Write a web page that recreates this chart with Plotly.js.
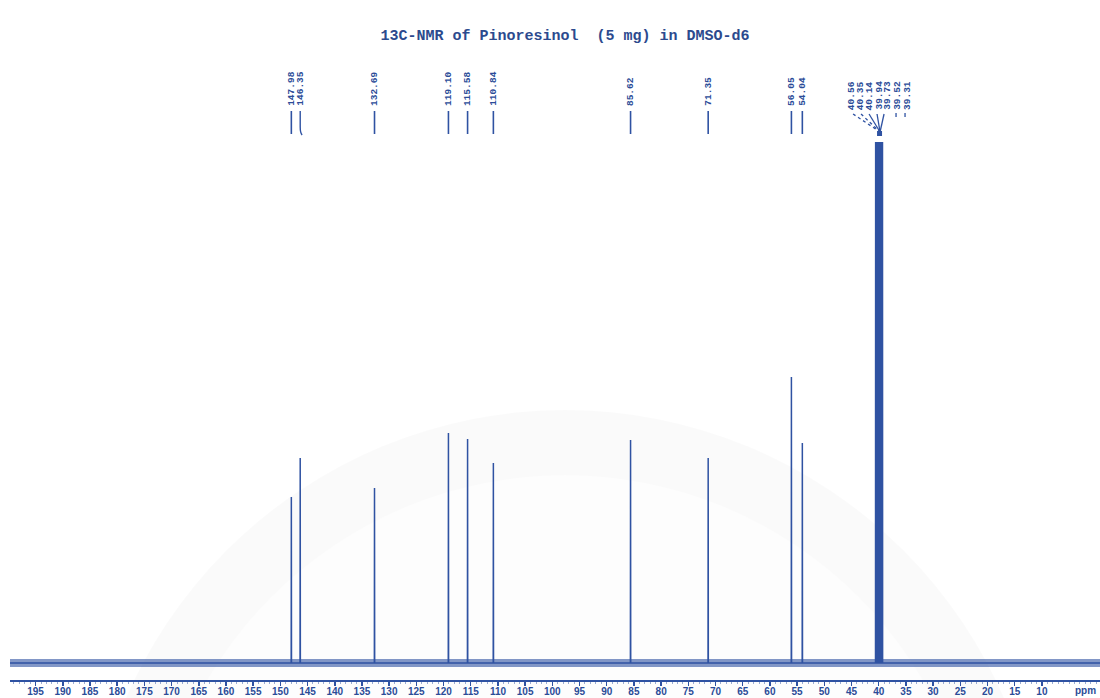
<!DOCTYPE html>
<html>
<head>
<meta charset="utf-8">
<script src="https://cdn.plot.ly/plotly-3.0.1.min.js"></script>
<style>
  html, body { margin: 0; padding: 0; background: #ffffff; }
  #chart { width: 1100px; height: 698px; }
</style>
</head>
<body>
<div id="chart"></div>
<script>
// 13C NMR spectrum of pinoresinol, stick representation.
// Chemical shifts (ppm) and peak heights (arbitrary intensity units, baseline = 0).
const peakPpm    = [147.98, 146.35, 132.69, 119.10, 115.58, 110.84, 85.62, 71.35, 56.05, 54.04];
const peakHeight = [166,    205,    175,    230,    224,    200,    223,   205,   286,   220];

// DMSO-d6 solvent septet (runs off the top of the plot).
const solventPpm    = [40.56, 40.35, 40.14, 39.94, 39.73, 39.52, 39.31];
const solventHeight = [600, 600, 600, 600, 600, 600, 600];

// Baseline noise envelope (intensity units).
const noiseLow  = -4;
const noiseHigh = 4;

// Axis tick labels (ppm).
const tickPpm = [195, 190, 185, 180, 175, 170, 165, 160, 155, 150, 145, 140, 135, 130, 125,
                 120, 115, 110, 105, 100, 95, 90, 85, 80, 75, 70, 65, 60, 55, 50, 45, 40,
                 35, 30, 25, 20, 15, 10];

const title = '13C-NMR of Pinoresinol  (5 mg) in DMSO-d6';

// ---- styling / geometry -------------------------------------------------
const BLUE = '#2f52a2';
const TEXT_BLUE = '#2b4c98';
const PLOT_TOP = 142, PLOT_BOTTOM = 680;          // pixel rows of the plotting area
const PLOT_H = PLOT_BOTTOM - PLOT_TOP;
const py = (pix) => (PLOT_BOTTOM - pix) / PLOT_H;  // pixel row -> paper coordinate
const halfWidth = 0.03;                            // half base width of a line (ppm)

// Build one continuous spectrum trace from the stick lists.
const sticks = peakPpm.map((p, i) => [p, peakHeight[i]])
  .concat(solventPpm.map((p, i) => [p, solventHeight[i]]))
  .sort((a, b) => b[0] - a[0]);
const specX = [205], specY = [0];
sticks.forEach(([p, h]) => {
  specX.push(p + halfWidth, p, p - halfWidth);
  specY.push(0, h, 0);
});
specX.push(-5); specY.push(0);

const traces = [
  { // noise band
    x: [205, -5], y: [noiseLow, noiseLow], mode: 'lines',
    line: { width: 0, color: BLUE }, hoverinfo: 'skip', showlegend: false
  },
  {
    x: [205, -5], y: [noiseHigh, noiseHigh], mode: 'lines', fill: 'tonexty',
    fillcolor: 'rgba(47,82,162,0.6)',
    line: { width: 0, color: BLUE }, hoverinfo: 'skip', showlegend: false
  },
  {
    x: specX, y: specY, mode: 'lines',
    line: { color: BLUE, width: 1.5 }, hoverinfo: 'x', showlegend: false
  }
];

// ---- peak labels ----------------------------------------------------------
const labelFont = { family: 'Liberation Mono, DejaVu Sans Mono, monospace', size: 9.5, color: TEXT_BLUE, weight: 'bold' };
const annotations = [];
const shapes = [];

peakPpm.forEach((p) => {
  annotations.push({
    x: p, xref: 'x', y: py(108), yref: 'paper',
    text: p.toFixed(2), textangle: -90, showarrow: false,
    xanchor: 'center', yanchor: 'bottom', font: labelFont
  });
  if (p === 146.35) {
    shapes.push({
      type: 'path', xref: 'x', yref: 'paper',
      path: `M ${p},${py(111)} L ${p},${py(127)} Q ${p},${py(133)} ${p - 0.35},${py(135)}`,
      line: { color: BLUE, width: 1.4 }
    });
  } else {
    shapes.push({
      type: 'line', xref: 'x', yref: 'paper',
      x0: p, x1: p, y0: py(111), y1: py(134),
      line: { color: BLUE, width: 1.6 }
    });
  }
});

// Solvent labels fan out sideways (pixel offsets from each line).
const fanShift = [-24, -16, -8, 0, 7, 16, 25];
const fanLine = ['dot', 'dot', 'solid', 'solid', 'solid', null, null];
const fanCenter = 39.94;
solventPpm.forEach((p, i) => {
  annotations.push({
    x: p, xref: 'x', xshift: fanShift[i], y: py(112), yref: 'paper',
    text: p.toFixed(2), textangle: -90, showarrow: false,
    xanchor: 'center', yanchor: 'bottom', font: labelFont
  });
  if (fanLine[i]) {
    shapes.push({
      type: 'line', xref: 'x', xsizemode: 'pixel', xanchor: fanCenter, yref: 'paper',
      x0: fanShift[i] - 2, y0: py(114), x1: 1, y1: py(132),
      line: { color: BLUE, width: 1.3, dash: fanLine[i] }
    });
  } else {
    shapes.push({
      type: 'line', xref: 'x', xsizemode: 'pixel', xanchor: fanCenter, yref: 'paper',
      x0: fanShift[i] + 1, y0: py(113), x1: fanShift[i] + 1, y1: py(117),
      line: { color: BLUE, width: 1.3 }
    });
  }
});
// small knot where the solvent label lines meet
shapes.push({
  type: 'rect', xref: 'x', xsizemode: 'pixel', xanchor: fanCenter, yref: 'paper',
  x0: -2, x1: 3, y0: py(136), y1: py(131),
  fillcolor: BLUE, line: { width: 0 }
});

// faint circular emblem in the background
shapes.push({
  type: 'circle', xref: 'paper', yref: 'paper', layer: 'below',
  x0: (86 - 10) / 1090, x1: (1044 - 10) / 1090, y0: py(1370), y1: py(410),
  fillcolor: 'rgba(0,0,0,0.018)', line: { width: 0 }
});
shapes.push({
  type: 'circle', xref: 'paper', yref: 'paper', layer: 'below',
  x0: (150 - 10) / 1090, x1: (980 - 10) / 1090, y0: py(1305), y1: py(475),
  fillcolor: 'rgba(255,255,255,0.5)', line: { width: 0 }
});

// axis unit label
annotations.push({
  x: 1, xref: 'paper', xanchor: 'right', xshift: -2,
  y: py(690), yref: 'paper', yanchor: 'middle',
  text: 'ppm', showarrow: false,
  font: { family: 'Liberation Sans Narrow, Liberation Sans, Arial, sans-serif', size: 10, color: TEXT_BLUE, weight: 'bold' }
});

const layout = {
  width: 1100, height: 698,
  margin: { l: 10, r: 0, t: PLOT_TOP, b: 698 - PLOT_BOTTOM, pad: 0 },
  paper_bgcolor: '#ffffff', plot_bgcolor: 'rgba(0,0,0,0)',
  showlegend: false,
  title: {
    text: title, xref: 'container', yref: 'container',
    x: 565 / 1100, y: 1 - 35 / 698, xanchor: 'center', yanchor: 'middle',
    font: { family: 'Liberation Mono, Courier New, monospace', size: 15, color: '#2c4a8e', weight: 'bold' }
  },
  xaxis: {
    range: [199.7, -0.68],
    tickmode: 'array', tickvals: tickPpm, ticktext: tickPpm.map(String),
    ticks: 'outside', ticklen: 4, tickwidth: 1.5, tickcolor: BLUE,
    ticklabelstandoff: -3,
    showline: true, linecolor: BLUE, linewidth: 1.6,
    showgrid: false, zeroline: false,
    minor: { tickmode: 'linear', tick0: 0, dtick: 1, ticks: 'outside', ticklen: 2, tickcolor: 'rgba(47,82,162,0.6)', tickwidth: 0.8, showgrid: false },
    tickfont: { family: 'Liberation Sans Narrow, Liberation Sans, Arial, sans-serif', size: 10, color: TEXT_BLUE, weight: 'bold' },
    fixedrange: true
  },
  yaxis: {
    range: [-17, PLOT_H - 17],
    visible: false, fixedrange: true
  },
  annotations: annotations,
  shapes: shapes
};

Plotly.newPlot('chart', traces, layout, { displayModeBar: false, staticPlot: true });
</script>
</body>
</html>
